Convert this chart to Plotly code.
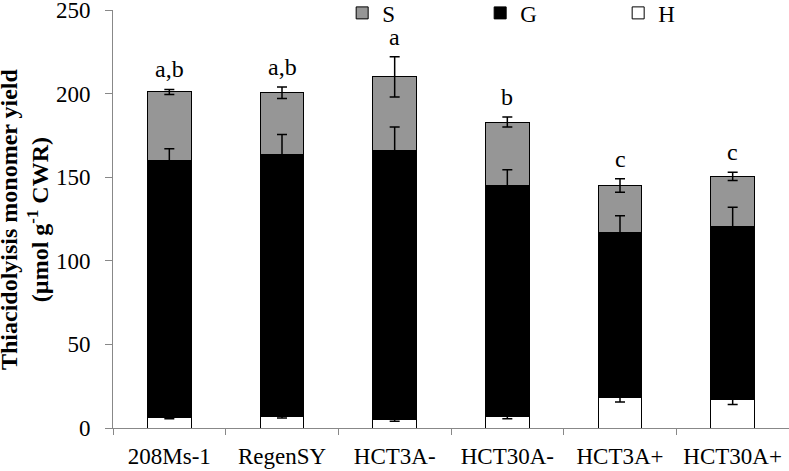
import plotly.graph_objects as go

categories = ["208Ms-1", "RegenSY", "HCT3A-", "HCT30A-", "HCT3A+", "HCT30A+"]
H_vals = [6, 7, 5, 7, 18.5, 17]
G_vals = [154, 156.5, 161, 138, 98.5, 103.5]
S_vals = [41, 37, 44, 38, 28, 30]
H_err = [0.5, 1, 1, 1.5, 3, 3]
G_err = [7, 12, 14, 9.5, 10, 11.5]
S_err = [1.5, 3.5, 12, 3, 4, 2.5]
letters = ["a,b", "a,b", "a", "b", "c", "c"]
y_title = "<b>Thiacidolyisis monomer yield<br>(µmol g<sup>-1</sup> CWR)</b>"

FONT = "Liberation Serif"
series = [("H", H_vals, H_err, "white"),
          ("G", G_vals, G_err, "black"),
          ("S", S_vals, S_err, "#969696")]

fig = go.Figure()

# stacked bars (legend shows S, G, H order)
for name, vals, err, col in series:
    fig.add_trace(go.Bar(name=name, x=categories, y=vals, marker_color=col,
                         width=0.39, marker_line=dict(color="black", width=1),
                         showlegend=True, legendrank={"S": 1, "G": 2, "H": 3}[name]))

# error bars drawn on top of all bars, at the cumulative top of each segment
cum = [0] * len(categories)
for name, vals, err, col in series:
    cum = [c + v for c, v in zip(cum, vals)]
    fig.add_trace(go.Scatter(x=categories, y=cum, mode="markers",
                             marker=dict(size=1, opacity=0), showlegend=False,
                             hoverinfo="skip",
                             error_y=dict(type="data", array=err, color="black",
                                          thickness=1.5, width=5)))

for i, c in enumerate(categories):
    top = H_vals[i] + G_vals[i] + S_vals[i] + S_err[i]
    fig.add_annotation(x=c, y=top, text=letters[i], showarrow=False,
                       yanchor="bottom", yshift=5,
                       font=dict(family=FONT, size=24, color="black"))

# y-axis title (two lines, rotated)
fig.add_annotation(text=y_title, xref="paper", yref="paper", x=-0.1316, y=0.5,
                   xanchor="center", yanchor="middle", textangle=-90,
                   showarrow=False, font=dict(family=FONT, size=24, color="black"))

fig.update_layout(
    barmode="stack",
    width=789, height=471,
    margin=dict(l=113, r=0, t=10, b=43, autoexpand=False),
    plot_bgcolor="white", paper_bgcolor="white",
    font=dict(family=FONT, size=23, color="black"),
    legend=dict(orientation="h", x=0.339, xanchor="left",
                y=0.993, yanchor="middle",
                entrywidth=93, entrywidthmode="pixels",
                font=dict(family=FONT, size=23), bgcolor="rgba(0,0,0,0)",
                traceorder="normal"),
    xaxis=dict(showline=True, linecolor="#888888", linewidth=1,
               ticks="outside", tickson="boundaries", ticklen=6, tickcolor="#888888",
               ticklabelstandoff=7, automargin=False,
               tickfont=dict(family=FONT, size=23), showgrid=False),
    yaxis=dict(range=[0, 250], dtick=50, showline=True, linecolor="#888888", linewidth=1,
               ticks="outside", ticklen=7, tickcolor="#888888", showgrid=False,
               ticklabelstandoff=10, ticklabeloverflow="allow", automargin=False,
               zeroline=False, tickfont=dict(family=FONT, size=23)),
)

fig.write_html("out.html", config={"displayModeBar": False},
               post_script="document.body.style.margin='0';")
